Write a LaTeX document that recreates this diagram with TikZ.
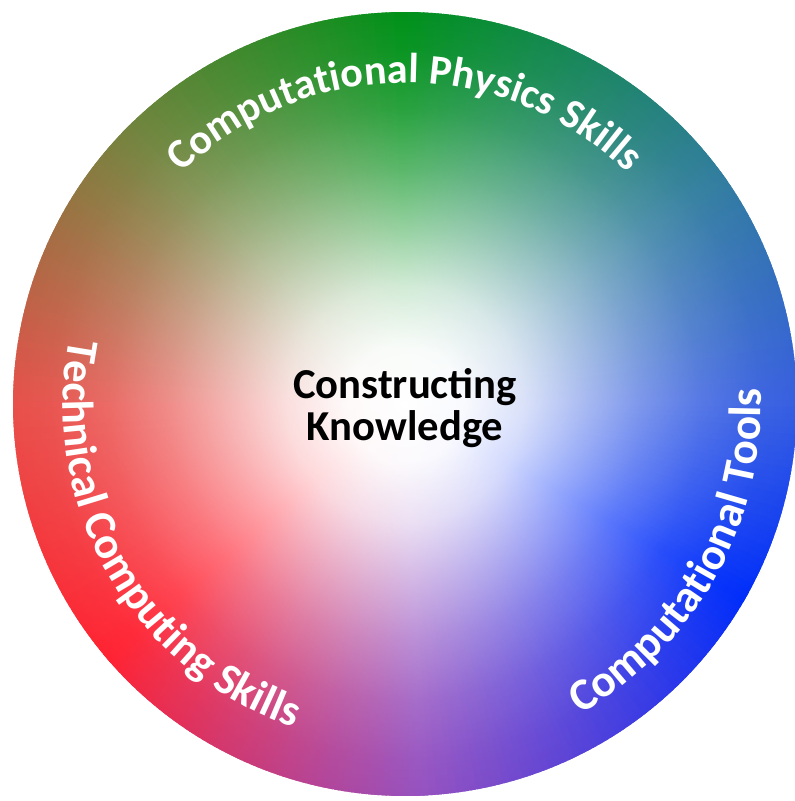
\documentclass[tikz,border=0pt]{standalone}
\usepackage{fontspec}
\usepackage{xcolor}
\usetikzlibrary{decorations.text,fadings}
\newfontfamily\carlito{Carlito}

\definecolor{cpGreen}{RGB}{0,145,25}
\definecolor{cpOlive}{RGB}{115,132,62}
\definecolor{cpBrick}{RGB}{232,80,75}
\definecolor{cpRed}{RGB}{255,35,50}
\definecolor{cpPurple}{RGB}{150,82,192}
\definecolor{cpBlue}{RGB}{0,45,250}
\definecolor{cpSky}{RGB}{55,95,225}
\definecolor{cpTeal}{RGB}{50,125,160}

% white glow in the middle of the wheel
\pgfdeclareradialshading{glowshade}{\pgfpoint{0bp}{0bp}}{%
	color(0bp)=(white); color(3.75bp)=(white!97!black);
	color(7.5bp)=(white!82!black); color(11.25bp)=(white!58!black);
	color(15bp)=(white!35!black); color(18.75bp)=(white!16!black);
	color(22.5bp)=(white!4!black); color(25bp)=(black); color(50bp)=(black)}
\pgfdeclarefading{glow}{\pgfuseshading{glowshade}}

\begin{document}
\begin{tikzpicture}[
	x = 0.75pt, y = 0.75pt,
	arc text/.style 2 args = {decorate, decoration = {text along path, text align = center,
		text = {|\carlito\bfseries\fontsize{#1}{36}\selectfont\color{white}|#2}}},
	core/.style = {align = center, inner sep = 0pt,
		font = \carlito\bfseries\fontsize{32}{31.5}\selectfont}
	]
	\useasboundingbox (-405,-397) rectangle (389,404);
	\coordinate (O) at (0,0);
	
	% colour wheel, one thin wedge per degree
	\foreach \a/\b/\ca/\cb in {90/135/cpGreen/cpOlive, 135/180/cpOlive/cpBrick,
		180/220/cpBrick/cpRed, 220/272/cpRed/cpPurple, 272/330/cpPurple/cpBlue,
		330/360/cpBlue/cpSky, 360/395/cpSky/cpTeal, 395/450/cpTeal/cpGreen}
	{
		\foreach \x in {\a,...,\b} {
			\pgfmathtruncatemacro\t{100*(\x-\a)/(\b-\a)}
			\fill[\cb!\t!\ca] (O) -- (\x-0.4:392)
				arc[start angle = \x-0.4, end angle = \x+1.4, radius = 392] -- cycle;
		}
	}
	\fill[white, path fading = glow] (O) circle[radius = 392];
	
	\path[arc text = {31.5}{Computational Physics Skills}]
		(160:321) arc[start angle = 160, end angle = 20, radius = 321];
	\path[arc text = {33.5}{Technical Computing Skills}]
		(150:342) arc[start angle = 150, end angle = 270, radius = 342];
	\path[arc text = {34}{Computational Tools}]
		(285:356) arc[start angle = 285, end angle = 377, radius = 356];
	
	\node[core] (know) at (0,-4) {Constructing\\Knowledge};
\end{tikzpicture}
\end{document}
